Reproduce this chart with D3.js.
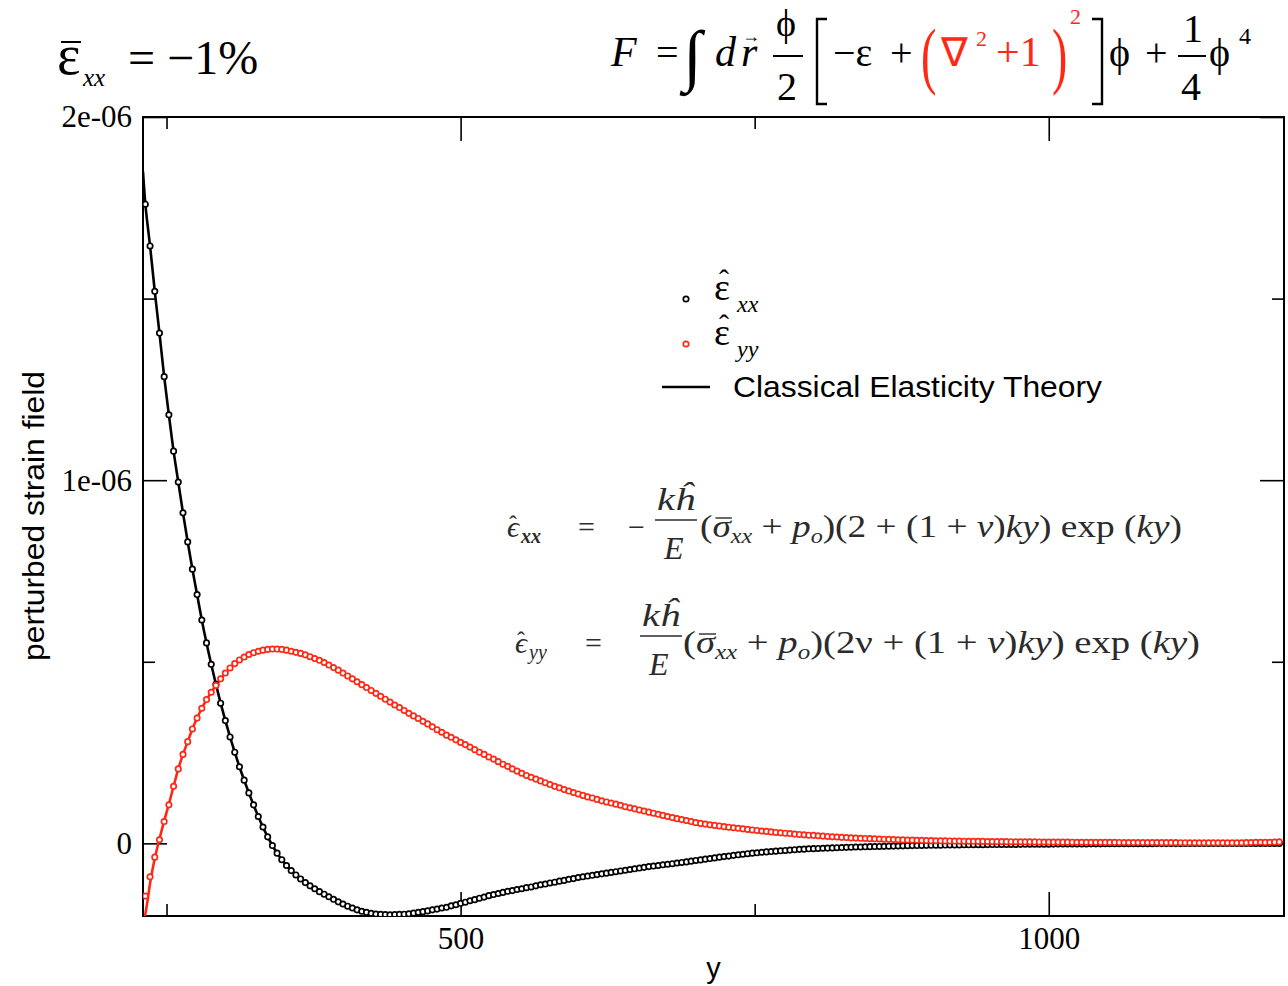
<!DOCTYPE html>
<html>
<head>
<meta charset="utf-8">
<script src="https://cdn.jsdelivr.net/npm/d3@7"></script>
<style>
  body { margin: 0; background: #fff; }
  svg { display: block; }
  .serif { font-family: "Liberation Serif", "Times New Roman", serif; }
  .sans { font-family: "Liberation Sans", Arial, sans-serif; }
</style>
</head>
<body>
<div id="chart"></div>
<script>
// simulation sample grid (y), one point every 4 units
const simY = d3.range(232, 1200, 4);

// simulated strain fields, in units of 1e-7
const simXX = [
  17.6, 16.45, 15.2, 14.05, 12.85, 11.8, 10.8, 9.95, 9.1, 8.3,
  7.55, 6.85, 6.15, 5.52, 4.93, 4.38, 3.86, 3.38, 2.93, 2.51,
  2.11, 1.74, 1.39, 1.06, 0.74, 0.45, 0.18, -0.06, -0.27, -0.45,
  -0.61, -0.75, -0.87, -0.98, -1.08, -1.17, -1.25, -1.33, -1.40, -1.47,
  -1.54, -1.61, -1.67, -1.73, -1.78, -1.83, -1.87, -1.90, -1.925, -1.945,
  -1.955, -1.96, -1.965, -1.96, -1.955, -1.95, -1.94, -1.92, -1.90, -1.88,
  -1.86, -1.83, -1.81, -1.78, -1.76, -1.72, -1.69, -1.65, -1.62, -1.58,
  -1.55, -1.51, -1.48, -1.44, -1.41, -1.38, -1.35, -1.32, -1.30, -1.27,
  -1.25, -1.22, -1.20, -1.17, -1.14, -1.12, -1.09, -1.07, -1.04, -1.02,
  -0.99, -0.97, -0.94, -0.92, -0.90, -0.88, -0.86, -0.84, -0.82, -0.80,
  -0.78, -0.76, -0.74, -0.72, -0.70, -0.68, -0.66, -0.64, -0.625, -0.61,
  -0.59, -0.575, -0.56, -0.54, -0.525, -0.51, -0.49, -0.47, -0.455, -0.435,
  -0.42, -0.40, -0.38, -0.365, -0.35, -0.33, -0.315, -0.30, -0.285, -0.27,
  -0.26, -0.245, -0.235, -0.225, -0.215, -0.205, -0.195, -0.185, -0.175, -0.165,
  -0.16, -0.15, -0.145, -0.14, -0.135, -0.13, -0.125, -0.12, -0.115, -0.11,
  -0.105, -0.10, -0.10, -0.095, -0.09, -0.088, -0.085, -0.082, -0.078, -0.075,
  -0.072, -0.068, -0.065, -0.062, -0.06, -0.057, -0.055, -0.053, -0.051, -0.049,
  -0.047, -0.045, -0.044, -0.042, -0.04, -0.039, -0.038, -0.036, -0.035, -0.034,
  -0.033, -0.032, -0.031, -0.03, -0.029, -0.028, -0.027, -0.026, -0.025, -0.024,
  -0.023, -0.022, -0.021, -0.02, -0.019, -0.018, -0.018, -0.017, -0.016, -0.015,
  -0.015, -0.014, -0.013, -0.013, -0.012, -0.012, -0.011, -0.01, -0.01, -0.01,
  -0.009, -0.009, -0.008, -0.008, -0.008, -0.007, -0.007, -0.007, -0.006, -0.006,
  -0.006, -0.005, -0.005, -0.005, -0.005, -0.004, -0.004, -0.004, -0.004, -0.003,
  -0.003, -0.003, -0.003, -0.003, -0.002, -0.002, -0.002, -0.002, -0.002, -0.002,
  -0.002, -0.001
];
const simYY = [
  -1.45, -0.92, -0.38, 0.10, 0.60, 1.06, 1.57, 2.05, 2.45, 2.80,
  3.15, 3.45, 3.72, 3.96, 4.16, 4.35, 4.53, 4.69, 4.83, 4.95,
  5.05, 5.13, 5.20, 5.25, 5.29, 5.32, 5.34, 5.35, 5.35, 5.34,
  5.32, 5.29, 5.26, 5.23, 5.19, 5.14, 5.09, 5.04, 4.98, 4.91,
  4.84, 4.77, 4.69, 4.61, 4.53, 4.45, 4.37, 4.29, 4.21, 4.13,
  4.05, 3.97, 3.89, 3.81, 3.74, 3.66, 3.58, 3.51, 3.44, 3.36,
  3.29, 3.21, 3.13, 3.06, 2.98, 2.92, 2.85, 2.78, 2.72, 2.65,
  2.58, 2.51, 2.45, 2.38, 2.32, 2.25, 2.18, 2.12, 2.05, 1.99,
  1.93, 1.87, 1.82, 1.77, 1.72, 1.67, 1.62, 1.57, 1.53, 1.48,
  1.44, 1.40, 1.36, 1.32, 1.28, 1.25, 1.21, 1.17, 1.14, 1.11,
  1.08, 1.05, 1.01, 0.98, 0.95, 0.92, 0.89, 0.86, 0.83, 0.80,
  0.77, 0.74, 0.71, 0.68, 0.655, 0.63, 0.60, 0.57, 0.55, 0.53,
  0.51, 0.495, 0.48, 0.46, 0.445, 0.43, 0.415, 0.40, 0.385, 0.37,
  0.355, 0.34, 0.33, 0.315, 0.30, 0.29, 0.28, 0.27, 0.255, 0.245,
  0.235, 0.225, 0.22, 0.21, 0.20, 0.19, 0.18, 0.175, 0.165, 0.16,
  0.15, 0.145, 0.14, 0.135, 0.13, 0.125, 0.12, 0.115, 0.11, 0.105,
  0.10, 0.095, 0.092, 0.088, 0.085, 0.082, 0.078, 0.075, 0.072, 0.07,
  0.068, 0.066, 0.064, 0.062, 0.06, 0.058, 0.057, 0.055, 0.054, 0.052,
  0.05, 0.049, 0.048, 0.047, 0.046, 0.045, 0.044, 0.042, 0.041, 0.04,
  0.039, 0.038, 0.037, 0.036, 0.035, 0.034, 0.033, 0.032, 0.031, 0.03,
  0.03, 0.029, 0.028, 0.028, 0.027, 0.026, 0.026, 0.025, 0.024, 0.024,
  0.023, 0.023, 0.022, 0.022, 0.021, 0.021, 0.02, 0.02, 0.019, 0.019,
  0.018, 0.018, 0.017, 0.017, 0.016, 0.016, 0.016, 0.015, 0.015, 0.015,
  0.014, 0.014, 0.015, 0.017, 0.02, 0.024, 0.028, 0.03, 0.027, 0.03,
  0.035, 0.04
];

// classical elasticity theory curves, in units of 1e-7
const theoryY = [230, 232, 234, 236, 240, 244, 248, 252, 256, 260, 264, 268, 272, 276, 280,
  288, 296, 304, 312, 320, 328, 336, 344, 352, 360, 368, 376, 384, 392, 400,
  412, 424, 436, 448, 460, 476, 492, 508, 524, 540,
  560, 580, 600, 620, 640, 660, 680, 700, 720, 740, 760, 780, 800,
  840, 880, 920, 960, 1000, 1050, 1100, 1150, 1200];
const theoryXX = [18.5, 17.6, 17.0, 16.45, 15.2, 14.05, 12.85, 11.8, 10.8, 9.95, 9.1, 8.3, 7.55, 6.85, 6.15,
  4.93, 3.86, 2.93, 2.11, 1.39, 0.74, 0.18, -0.27, -0.61, -0.87, -1.08, -1.25, -1.40, -1.54, -1.67,
  -1.83, -1.925, -1.96, -1.955, -1.92, -1.83, -1.72, -1.58, -1.44, -1.32,
  -1.20, -1.07, -0.94, -0.84, -0.74, -0.64, -0.56, -0.47, -0.38, -0.30, -0.235, -0.185, -0.145,
  -0.10, -0.068, -0.046, -0.032, -0.021, -0.013, -0.008, -0.004, -0.002];
const theoryYY = [-2.4, -1.95, -1.55, -1.1, -0.42, 0.12, 0.62, 1.08, 1.57, 2.05, 2.45, 2.80, 3.15, 3.45, 3.72,
  4.16, 4.53, 4.83, 5.05, 5.20, 5.29, 5.34, 5.35, 5.32, 5.26, 5.19, 5.09, 4.98, 4.84, 4.69,
  4.45, 4.21, 3.97, 3.74, 3.51, 3.21, 2.92, 2.65, 2.38, 2.12,
  1.82, 1.57, 1.36, 1.17, 1.01, 0.86, 0.71, 0.57, 0.48, 0.40, 0.33, 0.27, 0.22,
  0.14, 0.095, 0.066, 0.048, 0.035, 0.026, 0.019, 0.014, 0.012];
const UNIT = 1e-7;

const xMajor = [500, 1000];
const xMinor = [250, 750];
const yMajor = [0, 1e-6, 2e-6];
const yMinor = [5e-7, 1.5e-6];
const yLabels = {0: "0", 1e-6: "1e-06", 2e-6: "2e-06"};

const RED = "#ff2814";
const W = 1288, H = 986;
const margin = {top: 117, right: 4, bottom: 70, left: 143};
const iw = W - margin.left - margin.right;
const ih = H - margin.top - margin.bottom;

const svg = d3.select("#chart").append("svg")
    .attr("width", W)
    .attr("height", H);

const g = svg.append("g")
    .attr("transform", `translate(${margin.left},${margin.top})`);

const x = d3.scaleLinear().domain([230, 1200]).range([0, iw]);
const y = d3.scaleLinear().domain([-2e-7, 2e-6]).range([ih, 0]);

g.append("defs").append("clipPath").attr("id", "plot")
    .append("rect").attr("width", iw).attr("height", ih);

// axes: ticks point inward on all four sides
function axisGroup(axis, tx, ty) {
    const a = g.append("g")
        .attr("class", "serif")
        .attr("transform", `translate(${tx},${ty})`)
        .call(axis);
    a.select(".domain").remove();
    a.selectAll("line").attr("stroke", "#000").attr("stroke-width", 1.6);
    a.selectAll("text").attr("font-size", 31).attr("fill", "#000");
    return a;
}

axisGroup(d3.axisBottom(x).tickValues(xMajor).tickSize(-24).tickPadding(11)
    .tickFormat(d3.format("d")), 0, ih)
    .selectAll("text").attr("dy", "0.71em");
axisGroup(d3.axisBottom(x).tickValues(xMinor).tickSize(-12).tickFormat(""), 0, ih);
axisGroup(d3.axisTop(x).tickValues(xMajor).tickSize(-24).tickFormat(""), 0, 0);
axisGroup(d3.axisTop(x).tickValues(xMinor).tickSize(-12).tickFormat(""), 0, 0);
axisGroup(d3.axisLeft(y).tickValues(yMajor).tickSize(-24).tickPadding(11)
    .tickFormat(d => yLabels[d]), 0, 0);
axisGroup(d3.axisLeft(y).tickValues(yMinor).tickSize(-12).tickFormat(""), 0, 0);
axisGroup(d3.axisRight(y).tickValues(yMajor).tickSize(-24).tickFormat(""), iw, 0);
axisGroup(d3.axisRight(y).tickValues(yMinor).tickSize(-12).tickFormat(""), iw, 0);

g.append("rect")
    .attr("width", iw).attr("height", ih)
    .attr("fill", "none").attr("stroke", "#000").attr("stroke-width", 2);

// axis titles
g.append("text").attr("class", "sans")
    .attr("x", x(715)).attr("y", ih + 62)
    .attr("text-anchor", "middle").attr("font-size", 29)
    .text("y");
svg.append("text").attr("class", "sans")
    .attr("transform", "translate(44,516) rotate(-90)")
    .attr("text-anchor", "middle").attr("font-size", 30)
    .attr("textLength", 290).attr("lengthAdjust", "spacingAndGlyphs")
    .text("perturbed strain field");

// curves
const plot = g.append("g").attr("clip-path", "url(#plot)");
const line = d3.line()
    .x(d => x(d[0]))
    .y(d => y(d[1] * UNIT))
    .curve(d3.curveMonotoneX);

const theoryXXData = theoryY.map((v, i) => [v, theoryXX[i]]);
const theoryYYData = theoryY.map((v, i) => [v, theoryYY[i]]);
const simXXData = simY.map((v, i) => [v, simXX[i]]);
const simYYData = simY.map((v, i) => [v, simYY[i]]);

plot.append("path").datum(theoryYYData)
    .attr("d", line).attr("fill", "none")
    .attr("stroke", RED).attr("stroke-width", 2.6);
plot.append("path").datum(theoryXXData)
    .attr("d", line).attr("fill", "none")
    .attr("stroke", "#000").attr("stroke-width", 2.6);

function markers(data, color) {
    plot.append("g").selectAll("circle")
        .data(data)
        .join("circle")
        .attr("cx", d => x(d[0]))
        .attr("cy", d => y(d[1] * UNIT))
        .attr("r", 2.7)
        .attr("fill", "#fff")
        .attr("stroke", color)
        .attr("stroke-width", 1.7);
}
markers(simXXData, "#000");
markers(simYYData, RED);

// text helper (absolute page coordinates)
function txt(parent, s, px, py, size, opt = {}) {
    const t = parent.append("text")
        .attr("class", opt.sans ? "sans" : "serif")
        .attr("font-size", size)
        .attr("fill", opt.fill || "#000")
        .text(s);
    if (opt.italic) t.attr("font-style", "italic");
    if (opt.bold) t.attr("font-weight", "bold");
    if (opt.anchor) t.attr("text-anchor", opt.anchor);
    if (opt.len) t.attr("textLength", opt.len).attr("lengthAdjust", "spacingAndGlyphs");
    if (opt.sy) t.attr("transform", `translate(${px},${py}) scale(${opt.sx || 1},${opt.sy})`);
    else t.attr("x", px).attr("y", py);
    return t;
}
function rule(parent, x1, x2, yy, w, color) {
    parent.append("line").attr("x1", x1).attr("x2", x2).attr("y1", yy).attr("y2", yy)
        .attr("stroke", color || "#000").attr("stroke-width", w);
}

// top-left annotation
const ann = svg.append("g");
txt(ann, "\u03b5", 57, 74, 56);
rule(ann, 61, 81, 42, 2);
txt(ann, "xx", 83, 86, 25, {italic: true});
txt(ann, "= \u22121%", 128, 74, 48);

// free energy functional
const fe = svg.append("g");
txt(fe, "F", 611, 66, 42, {italic: true});
txt(fe, "=", 656, 66, 40);
txt(fe, "\u222b", 683, 78, 68);
txt(fe, "d", 715, 66, 42, {italic: true});
txt(fe, "r", 741, 66, 42, {italic: true});
txt(fe, "\u2192", 742, 42, 18);
txt(fe, "\u03d5", 776, 36, 38);
rule(fe, 773, 803, 56, 2);
txt(fe, "2", 777, 100, 40);
fe.append("path").attr("d", "M827,19 H817 V104 H827").attr("fill", "none").attr("stroke", "#000").attr("stroke-width", 2.4);
txt(fe, "\u2212\u03b5", 833, 66, 40);
txt(fe, "+", 890, 66, 40);
txt(fe, "(", 921, 80, 40, {fill: RED, sy: 1.85, sx: 1.15});
txt(fe, "\u2207", 941, 66, 40, {fill: RED});
txt(fe, "2", 976, 46, 22, {fill: RED});
txt(fe, "+1", 996, 66, 42, {fill: RED});
txt(fe, ")", 1052, 80, 40, {fill: RED, sy: 1.85, sx: 1.15});
txt(fe, "2", 1070, 24, 22, {fill: RED});
fe.append("path").attr("d", "M1092,19 H1102 V104 H1092").attr("fill", "none").attr("stroke", "#000").attr("stroke-width", 2.4);
txt(fe, "\u03d5", 1109, 66, 40);
txt(fe, "+", 1145, 66, 40);
txt(fe, "1", 1183, 42, 40);
rule(fe, 1178, 1206, 56, 2);
txt(fe, "4", 1181, 100, 40);
txt(fe, "\u03d5", 1209, 66, 40);
txt(fe, "4", 1239, 44, 24);

// legend
const leg = svg.append("g");
const legItems = [
    {color: "#000", sub: "xx", cy: 299},
    {color: RED, sub: "yy", cy: 344}
];
legItems.forEach(it => {
    leg.append("circle").attr("cx", 686).attr("cy", it.cy).attr("r", 2.7)
        .attr("fill", "#fff").attr("stroke", it.color).attr("stroke-width", 1.7);
    txt(leg, "\u03b5", 714, it.cy + 1, 38);
    txt(leg, "\u02c6", 719, it.cy - 9, 30);
    txt(leg, it.sub, 737, it.cy + 13, 24, {italic: true});
});
rule(leg, 662, 710, 387, 2.6);
txt(leg, "Classical Elasticity Theory", 733, 397, 29, {sans: true, len: 369});

// analytic expressions
const eq = svg.append("g");
const EQC = "#2b2b2b";
const eqRows = [
    {eps: 507, base: 537, sub: "xx", subBold: true, eqX: 578, minus: 628, fracX: 655, fracW: 42,
     rest: 700, restW: 482, mid: "(2 + (1 + "},
    {eps: 515, base: 653, sub: "yy", subBold: false, eqX: 585, minus: null, fracX: 640, fracW: 42,
     rest: 683, restW: 517, mid: "(2\u03bd + (1 + "}
];
eqRows.forEach(r => {
    txt(eq, "\u03f5", r.eps, r.base, 30, {italic: true, fill: EQC});
    txt(eq, "\u02c6", r.eps + 2, r.base - 5, 24, {fill: EQC});
    txt(eq, r.sub, r.eps + 14, r.base + 6, 20, {italic: true, bold: r.subBold, fill: EQC});
    txt(eq, "=", r.eqX, r.base, 30, {fill: EQC});
    if (r.minus) txt(eq, "\u2212", r.minus, r.base, 30, {fill: EQC});
    txt(eq, "k\u0125", r.fracX + 2, r.base - 27, 32, {italic: true, fill: EQC, len: 38});
    rule(eq, r.fracX, r.fracX + r.fracW, r.base - 17, 1.4, EQC);
    txt(eq, "E", r.fracX + 9, r.base + 22, 32, {italic: true, fill: EQC});
    const t = eq.append("text").attr("class", "serif").attr("font-size", 31).attr("fill", EQC)
        .attr("x", r.rest).attr("y", r.base)
        .attr("textLength", r.restW).attr("lengthAdjust", "spacingAndGlyphs");
    t.append("tspan").text("(");
    t.append("tspan").attr("font-style", "italic").text("\u03c3");
    t.append("tspan").attr("font-style", "italic").attr("font-size", 20).attr("dy", 6).text("xx");
    t.append("tspan").attr("dy", -6).text(" + ");
    t.append("tspan").attr("font-style", "italic").text("p");
    t.append("tspan").attr("font-style", "italic").attr("font-size", 20).attr("dy", 6).text("o");
    t.append("tspan").attr("dy", -6).text(")" + r.mid);
    t.append("tspan").attr("font-style", "italic").text("\u03bd");
    t.append("tspan").text(")");
    t.append("tspan").attr("font-style", "italic").text("ky");
    t.append("tspan").text(") exp (");
    t.append("tspan").attr("font-style", "italic").text("ky");
    t.append("tspan").text(")");
    // bar over sigma, placed from the laid-out glyph
    const sig = t.node().getExtentOfChar(1);
    rule(eq, sig.x + 3, sig.x + sig.width + 1, r.base - 19, 1.4, EQC);
});
</script>
</body>
</html>
